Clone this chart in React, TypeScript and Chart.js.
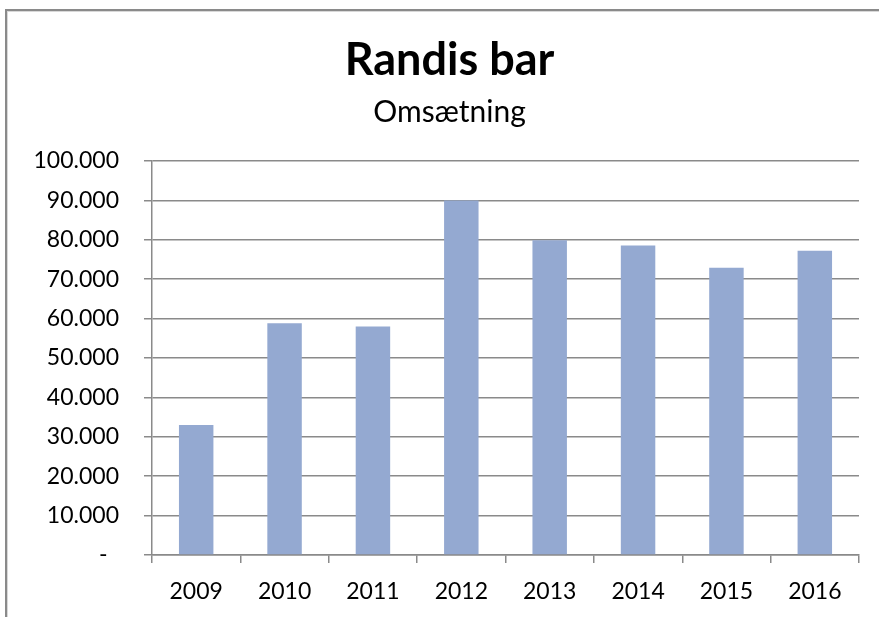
import React, { useEffect, useRef } from "react";
import { Chart, registerables } from "chart.js";

Chart.register(...registerables);

const categories = ["2009", "2010", "2011", "2012", "2013", "2014", "2015", "2016"];
const revenue = [33000, 58800, 58000, 90000, 79900, 78550, 72900, 77250];
const yTicks = [0, 10000, 20000, 30000, 40000, 50000, 60000, 70000, 80000, 90000, 100000];
const titleText = "Randis bar";
const subtitleText = "Omsætning";

function fmt(v: number): string {
  if (v === 0) return "-\u2002";
  const s = Math.round(v).toString();
  return s.replace(/\B(?=(\d{3})+(?!\d))/g, ".");
}

const shiftTitles = {
  id: "shiftTitles",
  afterLayout(chart: any) {
    chart.boxes.forEach((b: any) => {
      if (b.options && typeof b.options.text === "string") {
        b.left = 40;
      }
    });
  },
};

export default function App() {
  const ref = useRef<HTMLCanvasElement | null>(null);
  useEffect(() => {
    if (!ref.current) return;
    const grid = "#8a8a8a";
    const chart = new Chart(ref.current, {
      type: "bar",
      data: {
        labels: categories,
        datasets: [
          {
            label: subtitleText,
            data: revenue,
            backgroundColor: "#94a9d1",
            borderWidth: 0,
            barPercentage: 0.39,
            categoryPercentage: 1,
          },
        ],
      },
      plugins: [shiftTitles],
      options: {
        responsive: false,
        animation: false,
        devicePixelRatio: 1,
        layout: { padding: { left: 0, right: 20, top: 0, bottom: 0 } },
        plugins: {
          legend: { display: false },
          tooltip: { enabled: false },
          title: {
            display: true,
            text: titleText,
            color: "#000",
            font: { family: "Lato", size: 45, weight: "bold", lineHeight: 1.2 },
            padding: { top: 33, bottom: 7 },
          },
          subtitle: {
            display: true,
            text: subtitleText,
            color: "#000",
            font: { family: "Lato", size: 30, weight: "normal", lineHeight: 1.2 },
            padding: { top: 0, bottom: 31 },
          },
        },
        scales: {
          x: {
            type: "category",
            afterFit: (s: any) => {
              s.height = 62;
            },
            grid: {
              offset: true,
              drawOnChartArea: false,
              drawTicks: true,
              tickLength: 8,
              color: grid,
              lineWidth: 1.5,
            },
            border: { display: true, color: grid, width: 1.5 },
            ticks: {
              color: "#000",
              padding: 15,
              font: { family: "Lato", size: 23 },
              maxRotation: 0,
            },
          },
          y: {
            min: 0,
            max: 100000,
            afterFit: (s: any) => {
              s.width = 152;
            },
            afterBuildTicks: (s: any) => {
              s.ticks = yTicks.map((v) => ({ value: v }));
            },
            grid: {
              color: grid,
              lineWidth: 1.5,
              tickLength: 8,
              drawTicks: true,
            },
            border: { display: true, color: grid, width: 1.5 },
            ticks: {
              color: "#000",
              padding: 25,
              font: { family: "Lato", size: 23 },
              callback: (v: any) => fmt(Number(v)),
            },
          },
        },
      },
    } as any);
    return () => chart.destroy();
  }, []);
  return (
    <div style={{ position: "fixed", left: 0, top: 0, width: 879, height: 617, background: "#fff", overflow: "hidden" }}>
      <div
        style={{
          position: "absolute",
          left: 5,
          top: 9,
          width: 2000,
          height: 2000,
          borderLeft: "2px solid #8a8a8a",
          borderTop: "2px solid #8a8a8a",
          boxShadow: "inset 1px 1px 0 #d8d8d8",
        }}
      />
      <canvas ref={ref} width={879} height={617} style={{ position: "absolute", left: 0, top: 0 }} />
    </div>
  );
}
